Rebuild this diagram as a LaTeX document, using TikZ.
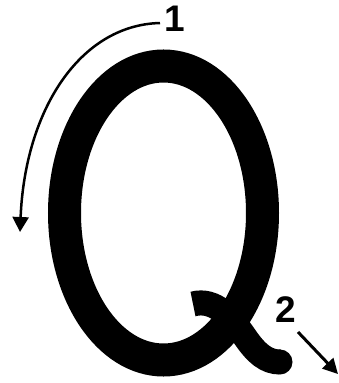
\documentclass[tikz,border=0pt]{standalone}
\usepackage{fontspec}
\setmainfont{Liberation Sans}
\usetikzlibrary{arrows.meta}
\begin{document}
\begin{tikzpicture}[x=1pt,y=-1pt,
  qstroke/.style={line width=33pt},
  tailstroke/.style={line width=25pt, line cap=butt},
  guide/.style={line width=2.5pt, -{Triangle[width=16pt,length=15pt]}},
  guidetwo/.style={line width=3pt, -{Triangle[width=15pt,length=15pt]}},
  lbl/.style={font=\fontsize{37}{37}\selectfont\bfseries, inner sep=0pt}]
\useasboundingbox[fill=white] (0,0) rectangle (338,383);
% letter Q
\draw[qstroke] (163.5,213) ellipse [x radius=99pt, y radius=147pt];
\coordinate (ts) at (193,304);
\coordinate (tm) at (245,337);
\coordinate (te) at (280,362);
\draw[tailstroke] (ts) .. controls (215,298) and (232,318) .. (tm) .. controls (256,353) and (266,362) .. (te);
\fill (te) circle[radius=12.5pt];
% labels
\node[lbl] (n1) at (175,19) {1};
\node[lbl] (n2) at (286,309.5) {2};
% arrows
\coordinate (a1s) at (160,23);
\coordinate (a1e) at (20,232);
\draw[guide] (a1s) .. controls (80,25) and (25,110) .. (a1e);
\coordinate (a2s) at (298,332);
\coordinate (a2e) at (338,374);
\draw[guidetwo] (a2s) -- (a2e);
\end{tikzpicture}
\end{document}
